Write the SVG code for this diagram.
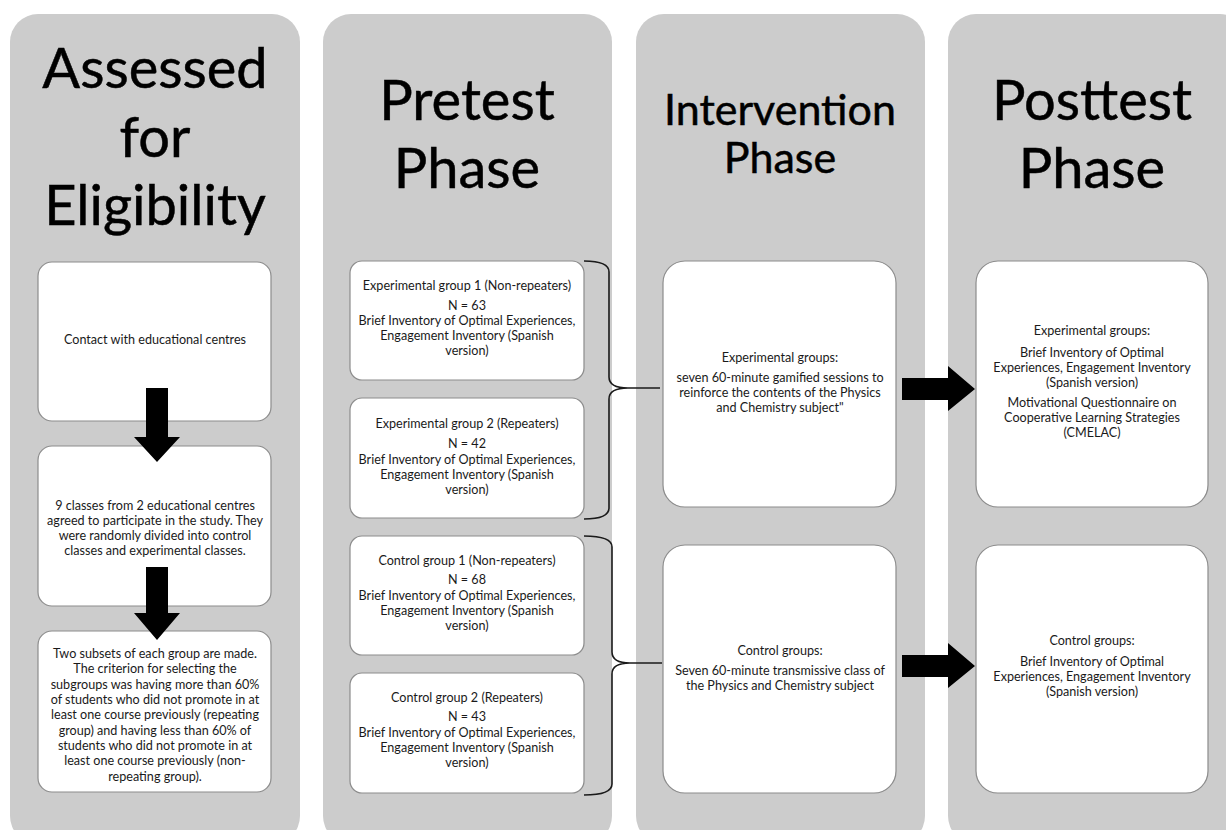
<svg xmlns="http://www.w3.org/2000/svg" width="1226" height="830" viewBox="0 0 1226 830">
<style>
.col{fill:#cccccc;}
.box{fill:#ffffff;stroke:#8c8c8c;stroke-width:1.2;}
.title{font-family:Lato,"Open Sans","Liberation Sans",sans-serif;fill:#000;stroke:#000;stroke-width:0.5;text-anchor:middle;}
.t{font-family:Lato,"Open Sans","Liberation Sans",sans-serif;font-size:12.6px;fill:#1a1a1a;text-anchor:middle;}
.arrow{fill:#000;}
.brace{fill:none;stroke:#1a1a1a;stroke-width:1.6;}
</style>
<rect width="1226" height="830" fill="#ffffff"/>
<g id="phases">
<rect class="col" x="10" y="14" width="290" height="830" rx="28"/>
<rect class="col" x="323" y="14" width="289" height="830" rx="28"/>
<rect class="col" x="636" y="14" width="289" height="830" rx="28"/>
<rect class="col" x="948" y="14" width="300" height="830" rx="28"/>
<text class="title" x="155" font-size="56"><tspan x="155" y="88">Assessed</tspan><tspan x="155" y="157">for</tspan><tspan x="155" y="225">Eligibility</tspan></text>
<text class="title" x="467" font-size="56"><tspan x="467" y="120">Pretest</tspan><tspan x="467" y="188">Phase</tspan></text>
<text class="title" x="780" font-size="43"><tspan x="780" y="125">Intervention</tspan><tspan x="780" y="173">Phase</tspan></text>
<text class="title" x="1092" font-size="56"><tspan x="1092" y="120">Posttest</tspan><tspan x="1092" y="188">Phase</tspan></text>
</g>
<g id="contact">
<rect class="box" x="38" y="262" width="233" height="159" rx="14"/>
<text class="t"><tspan x="155" y="344">Contact with educational centres</tspan></text>
</g>
<g id="classes">
<rect class="box" x="38" y="446" width="233" height="160" rx="14"/>
<text class="t"><tspan x="155" y="510">9 classes from 2 educational centres</tspan><tspan x="155" y="525">agreed to participate in the study. They</tspan><tspan x="155" y="540">were randomly divided into control</tspan><tspan x="155" y="555">classes and experimental classes.</tspan></text>
</g>
<g id="subsets">
<rect class="box" x="38" y="631" width="233" height="161" rx="14"/>
<text class="t"><tspan x="155" y="658">Two subsets of each group are made.</tspan><tspan x="155" y="673">The criterion for selecting the</tspan><tspan x="155" y="689">subgroups was having more than 60%</tspan><tspan x="155" y="704">of students who did not promote in at</tspan><tspan x="155" y="719">least one course previously (repeating</tspan><tspan x="155" y="735">group) and having less than 60% of</tspan><tspan x="155" y="750">students who did not promote in at</tspan><tspan x="155" y="765">least one course previously (non-</tspan><tspan x="155" y="781">repeating group).</tspan></text>
</g>
<g id="exp1">
<rect class="box" x="350" y="261" width="234" height="119" rx="12"/>
<text class="t"><tspan x="467" y="290">Experimental group 1 (Non-repeaters)</tspan><tspan x="467" y="310">N = 63</tspan><tspan x="467" y="325">Brief Inventory of Optimal Experiences,</tspan><tspan x="467" y="340">Engagement Inventory (Spanish</tspan><tspan x="467" y="355">version)</tspan></text>
</g>
<g id="exp2">
<rect class="box" x="350" y="398" width="234" height="120" rx="12"/>
<text class="t"><tspan x="467" y="428">Experimental group 2  (Repeaters)</tspan><tspan x="467" y="448">N = 42</tspan><tspan x="467" y="464">Brief Inventory of Optimal Experiences,</tspan><tspan x="467" y="479">Engagement Inventory (Spanish</tspan><tspan x="467" y="494">version)</tspan></text>
</g>
<g id="ctrl1">
<rect class="box" x="350" y="536" width="234" height="119" rx="12"/>
<text class="t"><tspan x="467" y="565">Control group 1 (Non-repeaters)</tspan><tspan x="467" y="584">N = 68</tspan><tspan x="467" y="600">Brief Inventory of Optimal Experiences,</tspan><tspan x="467" y="615">Engagement Inventory (Spanish</tspan><tspan x="467" y="630">version)</tspan></text>
</g>
<g id="ctrl2">
<rect class="box" x="350" y="673" width="234" height="120" rx="12"/>
<text class="t"><tspan x="467" y="702">Control group 2 (Repeaters)</tspan><tspan x="467" y="721">N = 43</tspan><tspan x="467" y="737">Brief Inventory of Optimal Experiences,</tspan><tspan x="467" y="752">Engagement Inventory (Spanish</tspan><tspan x="467" y="767">version)</tspan></text>
</g>
<g id="int-exp">
<rect class="box" x="663" y="261" width="233" height="246" rx="22"/>
<text class="t"><tspan x="780" y="362">Experimental groups:</tspan><tspan x="780" y="382">seven 60-minute gamified sessions to</tspan><tspan x="780" y="397">reinforce the contents of the Physics</tspan><tspan x="780" y="412">and Chemistry subject"</tspan></text>
</g>
<g id="int-ctrl">
<rect class="box" x="663" y="545" width="233" height="248" rx="22"/>
<text class="t"><tspan x="780" y="655">Control groups:</tspan><tspan x="780" y="675">Seven 60-minute transmissive class of</tspan><tspan x="780" y="690">the Physics and Chemistry subject</tspan></text>
</g>
<g id="post-exp">
<rect class="box" x="976" y="261" width="232" height="246" rx="22"/>
<text class="t"><tspan x="1092" y="335">Experimental groups:</tspan><tspan x="1092" y="357">Brief Inventory of Optimal</tspan><tspan x="1092" y="372">Experiences, Engagement Inventory</tspan><tspan x="1092" y="387">(Spanish version)</tspan><tspan x="1092" y="407">Motivational Questionnaire on</tspan><tspan x="1092" y="422">Cooperative Learning Strategies</tspan><tspan x="1092" y="437">(CMELAC)</tspan></text>
</g>
<g id="post-ctrl">
<rect class="box" x="976" y="545" width="232" height="248" rx="22"/>
<text class="t"><tspan x="1092" y="645">Control groups:</tspan><tspan x="1092" y="666">Brief Inventory of Optimal</tspan><tspan x="1092" y="681">Experiences, Engagement Inventory</tspan><tspan x="1092" y="696">(Spanish version)</tspan></text>
</g>
<g id="connectors">
<polygon class="arrow" points="146,388 168,388 168,437 180,437 157,462 134,437 146,437"/>
<polygon class="arrow" points="146,567 168,567 168,613 180,613 157,640 134,613 146,613"/>
<path class="brace" d="M584,261 Q609,261 609,272 L609,377 Q609,388 628,388 L660,388 M628,388 Q609,388 609,399 L609,508 Q609,519 584,519"/>
<path class="brace" d="M584,536 Q612,536 612,547 L612,652 Q612,663 630,663 L662,663 M630,663 Q612,663 612,674 L612,784 Q612,795 584,795"/>
<polygon class="arrow" points="902,378 948,378 948,366 975,389 948,411 948,400 902,400"/>
<polygon class="arrow" points="902,655 948,655 948,643 975,666 948,688 948,677 902,677"/>
</g>
</svg>
